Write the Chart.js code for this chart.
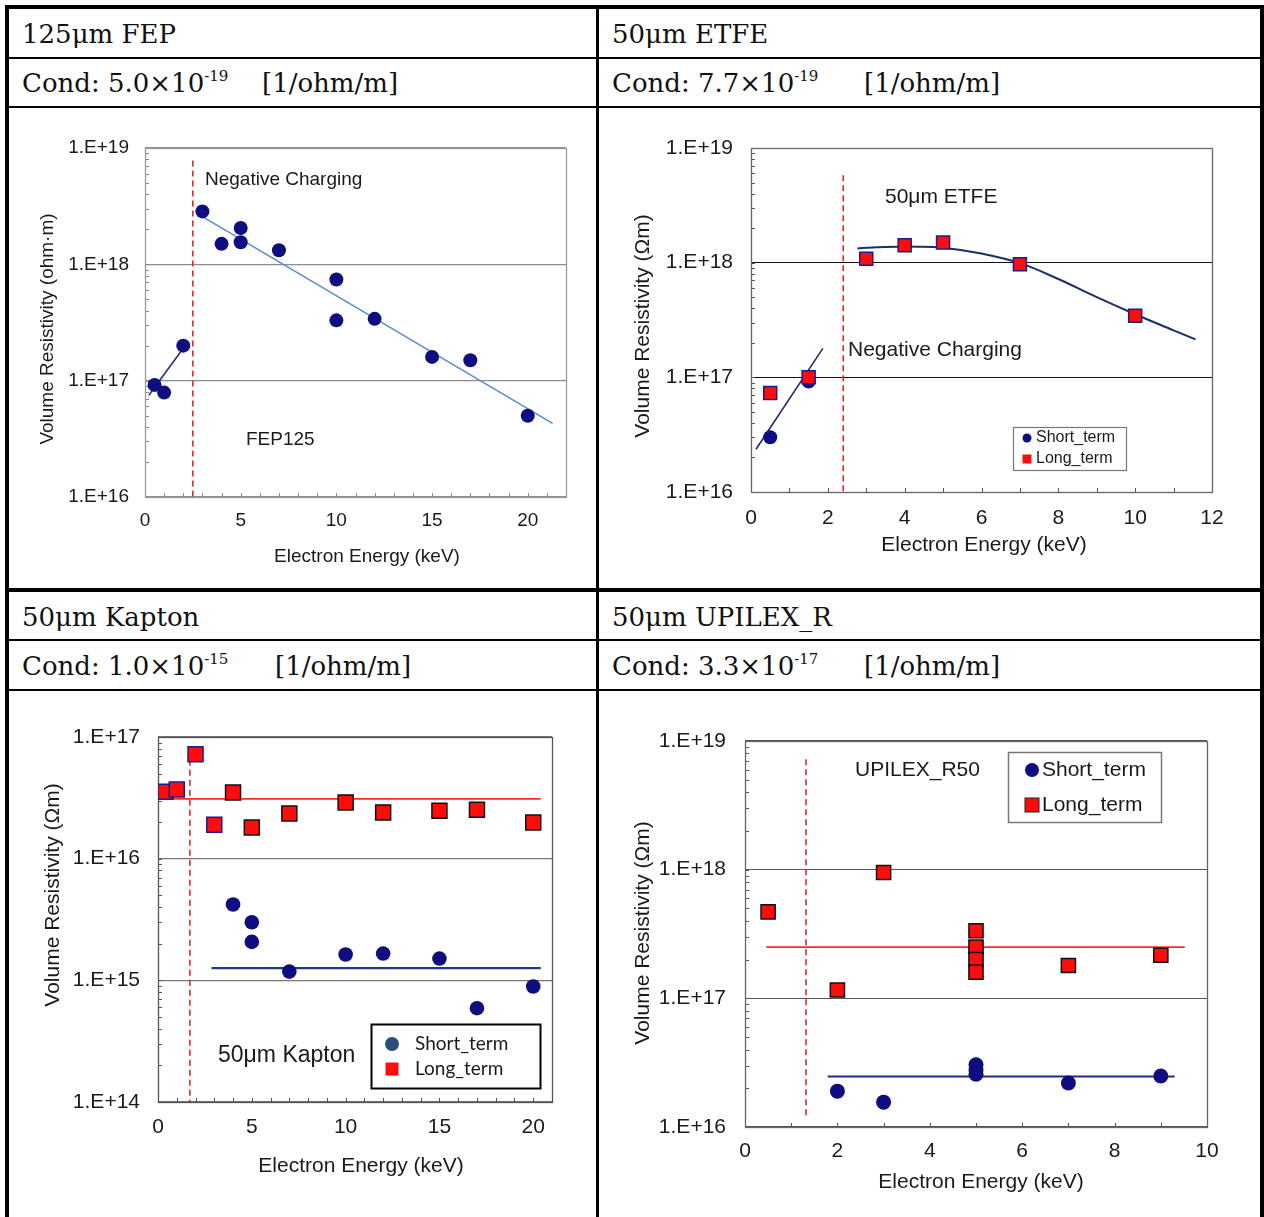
<!DOCTYPE html>
<html>
<head>
<meta charset="utf-8">
<script src="https://cdn.jsdelivr.net/npm/chart.js@4.4.1/dist/chart.umd.min.js"></script>
<style>
  html, body { margin: 0; padding: 0; background: #fff; }
  body { width: 1264px; height: 1217px; position: relative; overflow: hidden; }
  .rule { position: absolute; background: #000; }
  .cell-text { position: absolute; font-family: "DejaVu Serif", serif; font-size: 26px; line-height: 1; color: #111; white-space: nowrap; }
  .cell-text sup { font-size: 15px; vertical-align: 0; position: relative; top: -11px; }
  canvas { position: absolute; }
</style>
</head>
<body>
<!-- table rules -->
<div class="rule" style="left:5px;top:5px;width:1259px;height:4px"></div>
<div class="rule" style="left:5px;top:5px;width:4px;height:1212px"></div>
<div class="rule" style="left:1260px;top:5px;width:4px;height:1212px"></div>
<div class="rule" style="left:596px;top:5px;width:3px;height:1212px"></div>
<div class="rule" style="left:5px;top:57px;width:1259px;height:2px"></div>
<div class="rule" style="left:5px;top:106px;width:1259px;height:2px"></div>
<div class="rule" style="left:5px;top:588px;width:1259px;height:4px"></div>
<div class="rule" style="left:5px;top:639px;width:1259px;height:2px"></div>
<div class="rule" style="left:5px;top:689px;width:1259px;height:2px"></div>

<!-- table headings -->
<div class="cell-text" style="left:22px;top:21px">125μm FEP</div>
<div class="cell-text" style="left:22px;top:70px">Cond: 5.0×10<sup>-19</sup></div>
<div class="cell-text" style="left:262px;top:70px">[1/ohm/m]</div>
<div class="cell-text" style="left:612px;top:21px">50μm ETFE</div>
<div class="cell-text" style="left:612px;top:70px">Cond: 7.7×10<sup>-19</sup></div>
<div class="cell-text" style="left:864px;top:70px">[1/ohm/m]</div>
<div class="cell-text" style="left:22px;top:604px">50μm Kapton</div>
<div class="cell-text" style="left:22px;top:653px">Cond: 1.0×10<sup>-15</sup></div>
<div class="cell-text" style="left:275px;top:653px">[1/ohm/m]</div>
<div class="cell-text" style="left:612px;top:604px">50μm UPILEX_R</div>
<div class="cell-text" style="left:612px;top:653px">Cond: 3.3×10<sup>-17</sup></div>
<div class="cell-text" style="left:864px;top:653px">[1/ohm/m]</div>

<canvas id="fep" width="587" height="480" style="left:9px;top:108px"></canvas>
<canvas id="etfe" width="661" height="480" style="left:599px;top:108px"></canvas>
<canvas id="kapton" width="587" height="526" style="left:9px;top:691px"></canvas>
<canvas id="upilex" width="661" height="526" style="left:599px;top:691px"></canvas>

<script>
// ---------- 125 µm FEP ----------
const fepEnergy = [0.5, 1, 2, 3, 4, 5, 5, 7, 10, 10, 12, 15, 17, 20];
const fepResistivity = [9.2e16, 7.9e16, 2.0e17, 2.85e18, 1.5e18, 2.05e18, 1.55e18, 1.32e18, 7.4e17, 3.3e17, 3.4e17, 1.6e17, 1.5e17, 5.0e16];
const fepTrendEnergy = [3, 21.3];
const fepTrendResistivity = [2.57e18, 4.3e16];
const fepLowTrendEnergy = [0.2, 2.0];
const fepLowTrendResistivity = [7.5e16, 1.9e17];
const fepBoundaryEnergy = [2.5, 2.5];
const fepBoundaryResistivity = [7.8e18, 1e16];
const fepXLabels = ['0', '5', '10', '15', '20'];
const fepYLabels = ['1.E+16', '1.E+17', '1.E+18', '1.E+19'];

// ---------- 50 µm ETFE ----------
const etfeShortEnergy = [0.5, 1.5];
const etfeShortResistivity = [3.0e16, 9.2e16];
const etfeLongEnergy = [0.5, 1.5, 3, 4, 5, 7, 10];
const etfeLongResistivity = [7.3e16, 1.0e17, 1.08e18, 1.42e18, 1.5e18, 0.97e18, 3.45e17];
const etfeCurveEnergy = [2.77, 3.5, 4.3, 5.0, 6.0, 7.0, 8.0, 9.0, 10.0, 11.0, 11.57];
const etfeCurveResistivity = [1.33e18, 1.37e18, 1.38e18, 1.35e18, 1.2e18, 0.99e18, 7.2e17, 5.0e17, 3.55e17, 2.57e17, 2.14e17];
const etfeLowTrendEnergy = [0.13, 1.87];
const etfeLowTrendResistivity = [2.36e16, 1.79e17];
const etfeBoundaryEnergy = [2.4, 2.4];
const etfeBoundaryResistivity = [5.8e18, 1e16];
const etfeXLabels = ['0', '2', '4', '6', '8', '10', '12'];
const etfeYLabels = ['1.E+16', '1.E+17', '1.E+18', '1.E+19'];

// ---------- 50 µm Kapton ----------
const kaptonShortEnergy = [4, 5, 5, 7, 10, 12, 15, 17, 20];
const kaptonShortResistivity = [4.2e15, 3.0e15, 2.07e15, 1.18e15, 1.63e15, 1.66e15, 1.51e15, 5.9e14, 8.9e14];
const kaptonLongEnergy = [0.4, 1, 2, 3, 4, 5, 7, 10, 12, 15, 17, 20];
const kaptonLongResistivity = [3.55e16, 3.7e16, 7.2e16, 1.9e16, 3.5e16, 1.8e16, 2.35e16, 2.9e16, 2.4e16, 2.48e16, 2.52e16, 1.98e16];
const kaptonLongMeanEnergy = [0.1, 20.4];
const kaptonLongMean = [3.1e16, 3.1e16];
const kaptonShortMeanEnergy = [2.85, 20.4];
const kaptonShortMean = [1.26e15, 1.26e15];
const kaptonBoundaryEnergy = [1.7, 1.7];
const kaptonBoundaryResistivity = [6.5e16, 1e14];
const kaptonXLabels = ['0', '5', '10', '15', '20'];
const kaptonYLabels = ['1.E+14', '1.E+15', '1.E+16', '1.E+17'];

// ---------- 50 µm UPILEX-R ----------
const upilexShortEnergy = [2, 3, 5, 5, 5, 7, 9];
const upilexShortResistivity = [1.9e16, 1.56e16, 3.05e16, 2.75e16, 2.57e16, 2.2e16, 2.49e16];
const upilexLongEnergy = [0.5, 2, 3, 5, 5, 5, 5, 7, 9];
const upilexLongResistivity = [4.7e17, 1.16e17, 9.5e17, 3.35e17, 2.5e17, 2.0e17, 1.6e17, 1.8e17, 2.16e17];
const upilexLongMeanEnergy = [0.46, 9.52];
const upilexLongMean = [2.5e17, 2.5e17];
const upilexShortMeanEnergy = [1.79, 9.3];
const upilexShortMean = [2.47e16, 2.47e16];
const upilexBoundaryEnergy = [1.32, 1.32];
const upilexBoundaryResistivity = [7.2e18, 1.15e16];
const upilexXLabels = ['0', '2', '4', '6', '8', '10'];
const upilexYLabels = ['1.E+16', '1.E+17', '1.E+18', '1.E+19'];

// ---------- helpers ----------
const SANS = '"Liberation Sans", Arial, sans-serif';
Chart.defaults.font.family = SANS;
Chart.defaults.color = '#1a1a1a';

const NAVY = '#0e0e80';
const RED = '#ff0d0d';
const UP = -Math.PI / 2;

const pairs = (xs, ys) => xs.map((x, i) => ({ x, y: ys[i] }));
const decadesOf = labels => labels.map(l => Number(l.replace('.E', 'E')));
const logTicks = decades => {
  const out = [];
  for (let i = 0; i < decades.length - 1; i++) {
    for (let m = 1; m < 10; m++) out.push(m * decades[i]);
  }
  out.push(decades[decades.length - 1]);
  return out;
};
const isDecade = (v, decades) => decades.some(d => Math.abs(v / d - 1) < 1e-6);

function dots(label, xs, ys, color, r) {
  return { label, data: pairs(xs, ys), showLine: false, pointStyle: 'circle', pointRadius: r,
    backgroundColor: color, borderColor: color, pointBorderWidth: 0, order: 1 };
}
function squares(label, xs, ys, fill, edge, r) {
  return { label, data: pairs(xs, ys), showLine: false, pointStyle: 'rect', pointRadius: r,
    backgroundColor: fill, pointBorderColor: edge, pointBorderWidth: 1.5, order: 0 };
}
function line(xs, ys, color, width, extra) {
  return Object.assign({ data: pairs(xs, ys), showLine: true, pointRadius: 0, borderColor: color,
    borderWidth: width, backgroundColor: color, fill: false, tension: 0, order: 3 }, extra || {});
}
function boundary(xs, ys) {
  return line(xs, ys, '#e4262c', 1.6, { borderDash: [6, 4], order: 4 });
}

// frame and inward tick marks
const framePlugin = {
  id: 'frame',
  beforeDatasetsDraw(chart, args, opts) {
    const { ctx, chartArea: a, scales: { x, y } } = chart;
    ctx.save();
    ctx.strokeStyle = opts.tickColor;
    ctx.lineWidth = 1;
    ctx.beginPath();
    y.ticks.forEach(t => {
      const py = Math.round(y.getPixelForValue(t.value)) + 0.5;
      ctx.moveTo(a.left, py); ctx.lineTo(a.left + opts.tickLen, py);
    });
    x.ticks.forEach(t => {
      const px = Math.round(x.getPixelForValue(t.value)) + 0.5;
      ctx.moveTo(px, a.bottom); ctx.lineTo(px, a.bottom - opts.tickLen);
    });
    ctx.stroke();
    ctx.strokeStyle = opts.color;
    ctx.lineWidth = opts.width;
    ctx.strokeRect(Math.round(a.left) + 0.5, Math.round(a.top) + 0.5,
      Math.round(a.right - a.left), Math.round(a.bottom - a.top));
    ctx.restore();
  }
};

// axis titles, in-plot captions and the legend box
const notesPlugin = {
  id: 'notes',
  afterDatasetsDraw(chart, args, opts) {
    const ctx = chart.ctx;
    (opts.texts || []).forEach(t => {
      ctx.save();
      ctx.font = `${t.size}px ${t.family || SANS}`;
      ctx.fillStyle = t.color || '#1a1a1a';
      ctx.textAlign = t.align || 'left';
      ctx.textBaseline = 'middle';
      ctx.translate(t.x, t.y);
      if (t.rotate) ctx.rotate(t.rotate);
      ctx.fillText(t.text, 0, 0);
      ctx.restore();
    });
    const lg = opts.legend;
    if (!lg) return;
    ctx.save();
    ctx.fillStyle = '#fff';
    ctx.fillRect(lg.x, lg.y, lg.w, lg.h);
    ctx.strokeStyle = lg.border;
    ctx.lineWidth = lg.borderWidth;
    ctx.strokeRect(lg.x + 0.5, lg.y + 0.5, lg.w, lg.h);
    lg.rows.forEach(r => {
      ctx.fillStyle = r.fill;
      if (r.shape === 'rect') {
        ctx.fillRect(r.mx - r.size / 2, r.my - r.size / 2, r.size, r.size);
        if (r.edge) {
          ctx.strokeStyle = r.edge; ctx.lineWidth = 1;
          ctx.strokeRect(r.mx - r.size / 2, r.my - r.size / 2, r.size, r.size);
        }
      } else {
        ctx.beginPath();
        ctx.arc(r.mx, r.my, r.size / 2, 0, Math.PI * 2);
        ctx.fill();
      }
      ctx.fillStyle = '#1a1a1a';
      ctx.font = `${lg.size}px ${lg.family || SANS}`;
      ctx.textAlign = 'left';
      ctx.textBaseline = 'middle';
      ctx.fillText(chart.data.datasets[r.dataset].label, r.tx, r.my);
    });
    ctx.restore();
  }
};

function panel(id, p) {
  const decades = decadesOf(p.yLabels);
  const yTicks = logTicks(decades);
  const xTicks = [];
  for (let v = p.xMin; v <= p.xMax; v += 1) xTicks.push(v);
  return new Chart(document.getElementById(id), {
    type: 'scatter',
    data: { datasets: p.datasets },
    plugins: [framePlugin, notesPlugin],
    options: {
      responsive: false,
      animation: false,
      events: [],
      layout: { padding: { top: p.padTop, right: p.padRight, left: 0, bottom: 0 } },
      plugins: {
        legend: { display: false },
        tooltip: { enabled: false },
        frame: p.frame,
        notes: p.notes
      },
      scales: {
        x: {
          type: 'linear', min: p.xMin, max: p.xMax,
          afterFit: s => { s.height = p.xAxisHeight; },
          afterBuildTicks: s => { s.ticks = xTicks.map(v => ({ value: v })); },
          ticks: { autoSkip: false, maxRotation: 0, padding: p.xPad, font: { size: p.tickSize },
            callback: v => (p.xLabels.includes(String(v)) ? String(v) : '') },
          grid: { display: false, drawTicks: false },
          border: { display: false }
        },
        y: {
          type: 'logarithmic', min: decades[0], max: decades[decades.length - 1],
          afterFit: s => { s.width = p.yAxisWidth; },
          afterBuildTicks: s => { s.ticks = yTicks.map(v => ({ value: v })); },
          ticks: { autoSkip: false, padding: p.yPad, font: { size: p.tickSize },
            callback: v => {
              const i = decades.findIndex(d => Math.abs(v / d - 1) < 1e-6);
              return i >= 0 ? p.yLabels[i] : '';
            } },
          grid: { drawTicks: false, lineWidth: p.gridWidth,
            color: c => (isDecade(c.tick.value, decades) ? p.gridColor : 'rgba(0,0,0,0)') },
          border: { display: false }
        }
      }
    }
  });
}

// FEP
panel('fep', {
  xMin: 0, xMax: 22, xLabels: fepXLabels, yLabels: fepYLabels,
  padTop: 40, padRight: 30, yAxisWidth: 136, xAxisHeight: 91,
  xPad: 12, yPad: 16, tickSize: 19, gridColor: '#8c8c8c', gridWidth: 1.3,
  frame: { color: '#9a9a9a', width: 1.3, tickColor: '#8a8a8a', tickLen: 4 },
  notes: { texts: [
    { text: 'Volume Resistivity (ohm·m)', x: 39, y: 221, size: 19, align: 'center', rotate: UP },
    { text: 'Electron Energy (keV)', x: 358, y: 449, size: 19, align: 'center' },
    { text: 'Negative Charging', x: 196, y: 72, size: 19 },
    { text: 'FEP125', x: 237, y: 332, size: 19 }
  ] },
  datasets: [
    dots('FEP', fepEnergy, fepResistivity, NAVY, 7),
    line(fepTrendEnergy, fepTrendResistivity, '#5a8ccb', 1.5),
    line(fepLowTrendEnergy, fepLowTrendResistivity, '#1c2a78', 1.5),
    boundary(fepBoundaryEnergy, fepBoundaryResistivity)
  ]
});

// ETFE
panel('etfe', {
  xMin: 0, xMax: 12, xLabels: etfeXLabels, yLabels: etfeYLabels,
  padTop: 40, padRight: 48, yAxisWidth: 152, xAxisHeight: 96,
  xPad: 14, yPad: 18, tickSize: 21, gridColor: '#111', gridWidth: 1,
  frame: { color: '#666', width: 1.3, tickColor: '#555', tickLen: 4 },
  notes: {
    texts: [
      { text: 'Volume Resistivity (Ωm)', x: 44, y: 218, size: 21, align: 'center', rotate: UP },
      { text: 'Electron Energy (keV)', x: 385, y: 437, size: 21, align: 'center' },
      { text: '50μm ETFE', x: 286, y: 89, size: 21 },
      { text: 'Negative Charging', x: 249, y: 242, size: 21 }
    ],
    legend: { x: 414, y: 319, w: 113, h: 43, border: '#777', borderWidth: 1.2, size: 16,
      rows: [ { dataset: 0, shape: 'circle', fill: NAVY, mx: 428, my: 330, size: 9, tx: 437 },
              { dataset: 1, shape: 'rect', fill: RED, mx: 428, my: 351, size: 9, tx: 437 } ] }
  },
  datasets: [
    dots('Short_term', etfeShortEnergy, etfeShortResistivity, NAVY, 7),
    squares('Long_term', etfeLongEnergy, etfeLongResistivity, RED, '#1c1c8c', 9.2),
    line(etfeCurveEnergy, etfeCurveResistivity, '#1b2e6a', 2, { tension: 0.4 }),
    line(etfeLowTrendEnergy, etfeLowTrendResistivity, '#1b2e6a', 1.6),
    boundary(etfeBoundaryEnergy, etfeBoundaryResistivity)
  ]
});

// Kapton
panel('kapton', {
  xMin: 0, xMax: 21, xLabels: kaptonXLabels, yLabels: kaptonYLabels,
  padTop: 46, padRight: 44, yAxisWidth: 149, xAxisHeight: 115,
  xPad: 13, yPad: 18, tickSize: 21, gridColor: '#777', gridWidth: 1.2,
  frame: { color: '#555', width: 1.3, tickColor: '#555', tickLen: 4 },
  notes: {
    texts: [
      { text: 'Volume Resistivity (Ωm)', x: 44, y: 204, size: 21, align: 'center', rotate: UP },
      { text: 'Electron Energy (keV)', x: 352, y: 475, size: 21, align: 'center' },
      { text: '50μm Kapton', x: 209, y: 365, size: 23 }
    ],
    legend: { x: 362, y: 333, w: 169, h: 64, border: '#000', borderWidth: 2, size: 19,
      family: 'Lato, "Open Sans", sans-serif',
      rows: [ { dataset: 0, shape: 'circle', fill: '#2b4c7c', mx: 383, my: 353, size: 14, tx: 406 },
              { dataset: 1, shape: 'rect', fill: RED, mx: 383, my: 378, size: 13, tx: 406 } ] }
  },
  datasets: [
    dots('Short_term', kaptonShortEnergy, kaptonShortResistivity, NAVY, 7.3),
    Object.assign(squares('Long_term', kaptonLongEnergy, kaptonLongResistivity, RED, '#111', 10.6),
      { pointBorderColor: kaptonLongEnergy.map(e => (e <= 3 ? '#1c1c8c' : '#111')) }),
    line(kaptonLongMeanEnergy, kaptonLongMean, '#ff2a2a', 1.8),
    line(kaptonShortMeanEnergy, kaptonShortMean, '#1f3a88', 2.2),
    boundary(kaptonBoundaryEnergy, kaptonBoundaryResistivity)
  ]
});

// UPILEX-R
panel('upilex', {
  xMin: 0, xMax: 10, xLabels: upilexXLabels, yLabels: upilexYLabels,
  padTop: 50, padRight: 53, yAxisWidth: 146, xAxisHeight: 90,
  xPad: 12, yPad: 19, tickSize: 21, gridColor: '#555', gridWidth: 1.1,
  frame: { color: '#666', width: 1.3, tickColor: '#555', tickLen: 4 },
  notes: {
    texts: [
      { text: 'Volume Resistivity (Ωm)', x: 44, y: 242, size: 21, align: 'center', rotate: UP },
      { text: 'Electron Energy (keV)', x: 382, y: 491, size: 21, align: 'center' },
      { text: 'UPILEX_R50', x: 256, y: 79, size: 21 }
    ],
    legend: { x: 409, y: 61, w: 153, h: 70, border: '#777', borderWidth: 1.5, size: 21,
      rows: [ { dataset: 0, shape: 'circle', fill: NAVY, mx: 433, my: 79, size: 14, tx: 443 },
              { dataset: 1, shape: 'rect', fill: RED, edge: '#222', mx: 433, my: 114, size: 14, tx: 443 } ] }
  },
  datasets: [
    dots('Short_term', upilexShortEnergy, upilexShortResistivity, NAVY, 7.5),
    squares('Long_term', upilexLongEnergy, upilexLongResistivity, RED, '#111', 10),
    line(upilexLongMeanEnergy, upilexLongMean, '#ff2a2a', 1.8),
    line(upilexShortMeanEnergy, upilexShortMean, '#1f2f80', 2),
    boundary(upilexBoundaryEnergy, upilexBoundaryResistivity)
  ]
});
</script>
</body>
</html>
